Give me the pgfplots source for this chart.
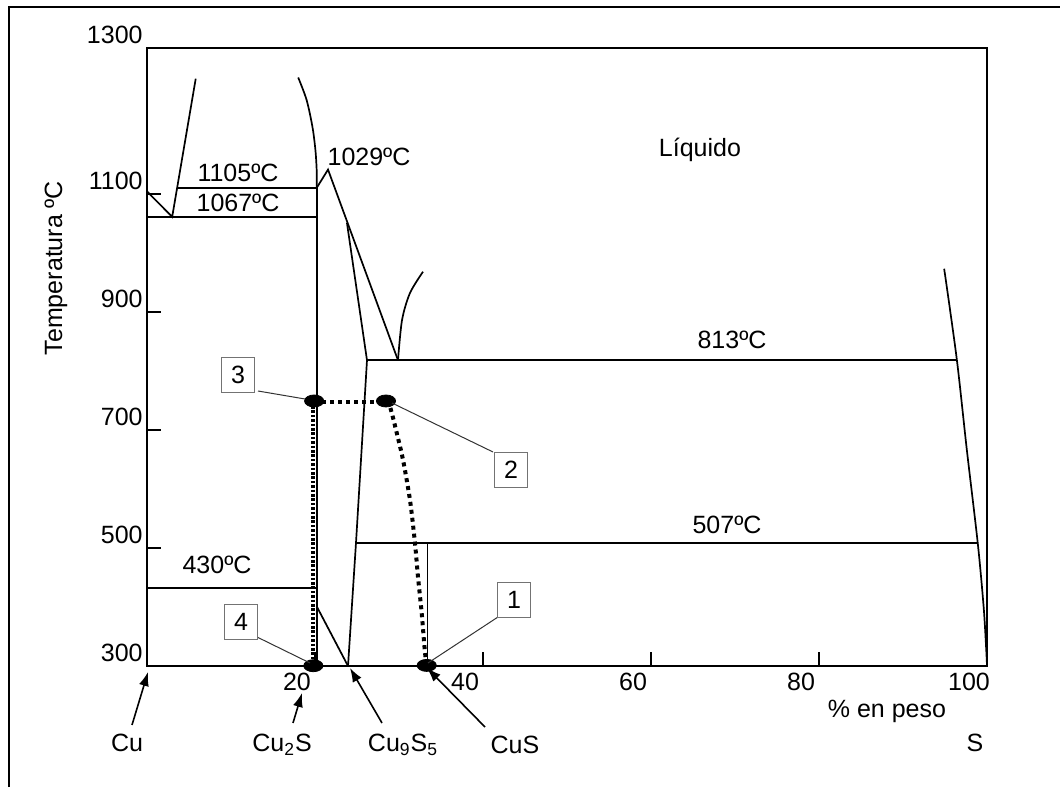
\documentclass[border=0pt]{standalone}
\usepackage{pgfplots}
\pgfplotsset{compat=1.18}
\usepackage{fontspec}
\setmainfont{Liberation Sans}
\usetikzlibrary{arrows.meta}
\begin{document}
\fontsize{12.5}{15}\selectfont
\begin{tikzpicture}[x=0.5pt,y=0.5pt,
  box/.style={draw=black!55, line width=0.8pt, minimum width=16.5pt, minimum height=17.5pt, inner sep=0pt},
  leader/.style={black!80, line width=0.5pt},
  arr/.style={black, line width=0.8pt, -{Latex[length=7pt,width=5pt]}}]
\useasboundingbox (0,0) rectangle (1060,787);
\begin{axis}[
  at={(73.5pt,60.5pt)}, anchor=south west,
  scale only axis, width=420pt, height=309pt,
  xmin=0, xmax=100, ymin=300, ymax=1347,
  clip=false,
  axis line style={line width=1pt},
  tick pos=left, tick align=inside,
  major tick length=7pt,
  tick style={line width=0.8pt, black},
  xtick={20,40,60,80,100}, xticklabels={20,40,60,80,100},
  ytick={300,500,700,900,1100,1347}, yticklabels={300,500,700,900,1100,1300},
  xticklabel style={anchor=north, inner sep=0pt, xshift=-9pt, yshift=-3.5pt},
  yticklabel style={anchor=east, inner sep=0pt, xshift=-2pt, yshift=6.5pt},
  /pgf/number format/assume math mode=true,
  ph/.style={black, line width=0.85pt},
]
% Cu-rich liquidus
\addplot[ph] coordinates {(0,1104) (3.0,1061) (5.8,1295)};
% 1105 and 1067 lines
\addplot[ph] coordinates {(3.55,1110) (20.2,1110)};
\addplot[ph] coordinates {(0,1061) (20.3,1061)};
% Cu2S liquidus (upper curve) and Cu2S line
\addplot[ph, smooth] coordinates {(18.0,1297) (19.0,1259) (19.7,1213) (20.05,1174) (20.2,1140) (20.2,1110)};
\addplot[ph, line width=1pt] coordinates {(20.2,1110) (20.2,300)};
% maximum and liquidus down to eutectic
\addplot[ph] coordinates {(20.2,1110) (21.55,1141) (29.88,818)};
% digenite boundary
\addplot[ph] coordinates {(23.8,1051) (26.19,818) (24.88,508.5) (23.93,300)};
% 813 line
\addplot[ph] coordinates {(26.19,818) (96.43,818)};
% liquidus right of eutectic
\addplot[ph, smooth] coordinates {(29.88,818) (30.36,886) (31.31,932) (32.86,968)};
% S-side curve
\addplot[ph, smooth] coordinates {(94.9,973) (96.4,820) (97.6,666) (98.9,508) (99.6,400) (99.9,330) (100,300)};
% 507 line
\addplot[ph] coordinates {(24.88,508.5) (98.9,508.5)};
% CuS line
\addplot[ph] coordinates {(33.4,508.5) (33.4,300)};
% 430 line
\addplot[ph] coordinates {(0,432) (20.2,432)};
% low temperature boundary
\addplot[ph] coordinates {(20.24,400) (23.93,300)};
% dotted paths
\addplot[black, line width=2.2pt, dash pattern=on 1.3pt off 0.9pt] coordinates {(19.76,748) (19.76,302)};
\addplot[black, line width=2pt, dash pattern=on 2pt off 2pt] coordinates {(19.9,748) (28.45,748)};
\addplot[black, line width=2pt, dash pattern=on 2pt off 2pt, smooth] coordinates {(28.45,748) (28.93,739) (29.73,695) (30.48,649) (31.31,581) (31.9,508.5) (32.26,451) (32.7,390) (33.1,322) (33.35,301)};
% points 1-4
\addplot[only marks, mark=*, mark size=3pt, mark options={xscale=1.6, fill=black, draw=black}] coordinates {(19.9,749) (28.45,749) (19.8,300.5) (33.3,301)};
\end{axis}
% outer frame
\draw[line width=1pt] (8.7,0) -- (8.7,780.3) -- (1060,780.3);
% labels inside
\node at (238,614) {1105ºC};
\node at (238,584) {1067ºC};
\node at (369,630) {1029ºC};
\node at (700,637) {Líquido};
\node at (732,447) {813ºC};
\node at (727,262) {507ºC};
\node at (217,222) {430ºC};
% boxes and leaders
\draw[leader] (258,396) -- (305,388);
\node[box, fill=white] at (238,412) {3};
\draw[leader] (493,335) -- (392,384);
\node[box, fill=white] at (511,317) {2};
\draw[leader] (498,170) -- (428,124);
\node[box, fill=white] at (514,187) {1};
\draw[leader] (257,150) -- (310,124);
\node[box, fill=white] at (241,165) {4};
% bottom labels
\node at (127,44) {Cu};
\node at (282,42) {Cu\textsubscript{2}S};
\node at (403,42) {Cu\textsubscript{9}S\textsubscript{5}};
\node at (515,42) {CuS};
\node at (975,44) {S};
\node at (887,76) {\% en peso};
\draw[arr] (132,62) -- (148,115);
\draw[arr] (293,64) -- (302,94);
\draw[arr] (382,64) -- (350,119);
\draw[arr] (485,60) -- (427,119);
% y label
\node[rotate=90] at (56,518.5) {Temperatura\hspace{3pt}ºC};
\end{tikzpicture}
\end{document}
